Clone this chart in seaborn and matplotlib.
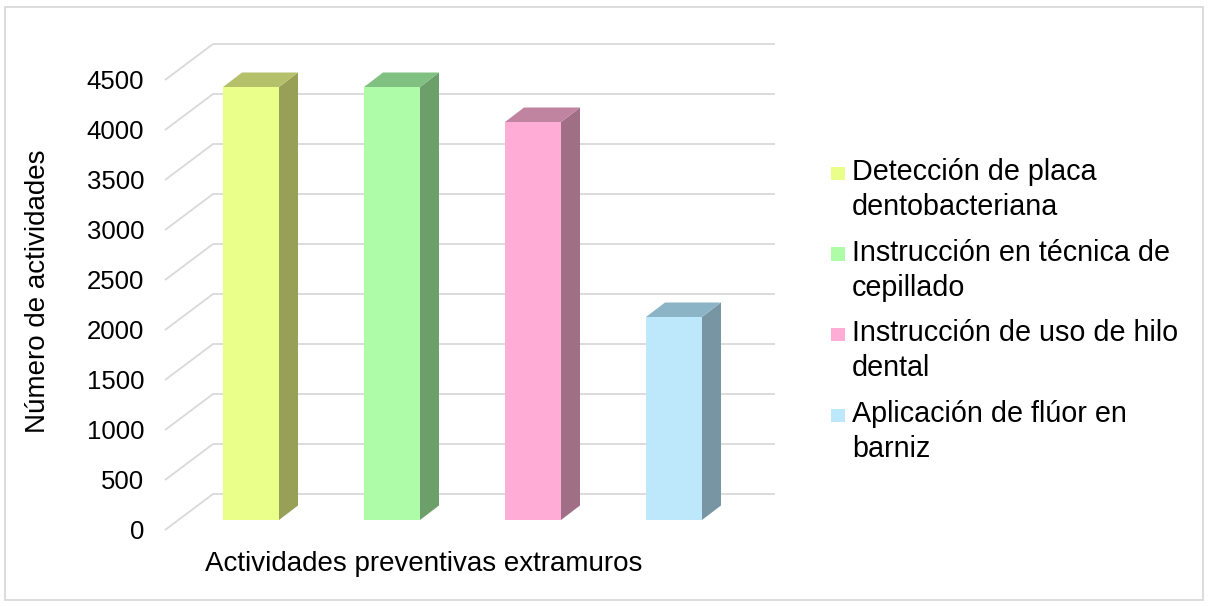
import matplotlib
matplotlib.use("Agg")
import matplotlib.pyplot as plt
from matplotlib.patches import Polygon, Rectangle
import pandas as pd
import seaborn as sns

# ---- data ----
series = [
    "Detección de placa\ndentobacteriana",
    "Instrucción en técnica de\ncepillado",
    "Instrucción de uso de hilo\ndental",
    "Aplicación de flúor en\nbarniz",
]
values = [4330, 4330, 3980, 2030]
y_ticks = [0, 500, 1000, 1500, 2000, 2500, 3000, 3500, 4000, 4500]
x_title = "Actividades preventivas extramuros"
y_title = "Número de actividades"

# ---- colours: front, top and side faces of each column ----
front_cols = ["#E9FF8A", "#AEFBA8", "#FFADD6", "#BDE8FC"]
top_cols = ["#B5C06B", "#80C080", "#C184A0", "#8BB4C6"]
side_cols = ["#97A056", "#6C9F69", "#A06F86", "#7895A4"]
grid_col = "#D9D9D9"
font = "Liberation Sans"

W, H = 1209, 607
fig = plt.figure(figsize=(W / 100, H / 100), dpi=100)
sns.set_style("white")
plt.rcParams["font.family"] = [font, "DejaVu Sans"]
plt.rcParams["text.color"] = "#000000"

# pixel geometry of the column plane
X0, SX = 251.0, 141.0      # px of first category, px per category
Y0, SY = 520.0, 0.1        # px of value 0, px per unit
PL, PR, PT = 200.0, 740.0, 70.0
ax = fig.add_axes([PL / W, 1 - Y0 / H, (PR - PL) / W, (Y0 - PT) / H])


def dx(px):
    return px / SX


def dy(px):
    # screen offsets upward are negative pixels
    return -px / SY


df = pd.DataFrame({"serie": series, "valor": values})
sns.barplot(data=df, x="serie", y="valor", hue="serie", palette=front_cols,
            width=56 / SX, saturation=1, legend=False, edgecolor="none",
            ax=ax, zorder=3)
ax.set_xlim((PL - X0) / SX, (PR - X0) / SX)
ax.set_ylim(0, (Y0 - PT) / SY)
ax.axis("off")

# walls: side-wall slants and back-wall gridlines
xf, xb, xr = dx(165 - X0), dx(213 - X0), dx(775 - X0)
for v in y_ticks:
    yf, yb = v + dy(10), v + dy(-26)
    ax.plot([xf, xb, xr], [yf, yb, yb], color=grid_col, lw=1.3,
            solid_capstyle="butt", clip_on=False, zorder=1)
    ax.text(dx(144 - X0), yf + dy(9), f"{v}", ha="right", va="baseline",
            fontsize=18.5, color="#000000", clip_on=False)

# 3‑D faces of each column
bdx, bdy = dx(19), dy(-14.5)
for p, tc, sc in zip(ax.patches, top_cols, side_cols):
    x0 = p.get_x()
    x1 = x0 + p.get_width()
    h = p.get_height()
    side = Polygon([(x1, 0), (x1 + bdx, bdy), (x1 + bdx, h + bdy), (x1, h)],
                   closed=True, facecolor=sc, edgecolor="none",
                   clip_on=False, zorder=3)
    top = Polygon([(x0, h), (x1, h), (x1 + bdx, h + bdy), (x0 + bdx, h + bdy)],
                  closed=True, facecolor=tc, edgecolor="none",
                  clip_on=False, zorder=3)
    ax.add_patch(side)
    ax.add_patch(top)

# axis titles
fig.text(424 / W, 1 - 571 / H, x_title, ha="center", va="baseline",
         fontsize=20, color="#000000")
fig.text(45 / W, 1 - 291 / H, y_title, ha="center", va="baseline",
         rotation=90, rotation_mode="anchor", fontsize=20, color="#000000")

# legend
for i, (name, col) in enumerate(zip(series, front_cols)):
    base = 180 + 80.7 * i
    fig.patches.append(Rectangle((831 / W, 1 - base / H), 14 / W, 13.5 / H,
                                 transform=fig.transFigure, facecolor=col,
                                 edgecolor="none"))
    for j, line in enumerate(name.split("\n")):
        fig.text(852 / W, 1 - (base + 35 * j) / H, line, ha="left",
                 va="baseline", fontsize=20.7, color="#000000")

# chart frame
fig.patches.append(Rectangle((5 / W, 1 - 600 / H), 1198 / W, 593 / H,
                             transform=fig.transFigure, facecolor="none",
                             edgecolor=grid_col, lw=1.3))

fig.savefig("out.png", dpi=100)
